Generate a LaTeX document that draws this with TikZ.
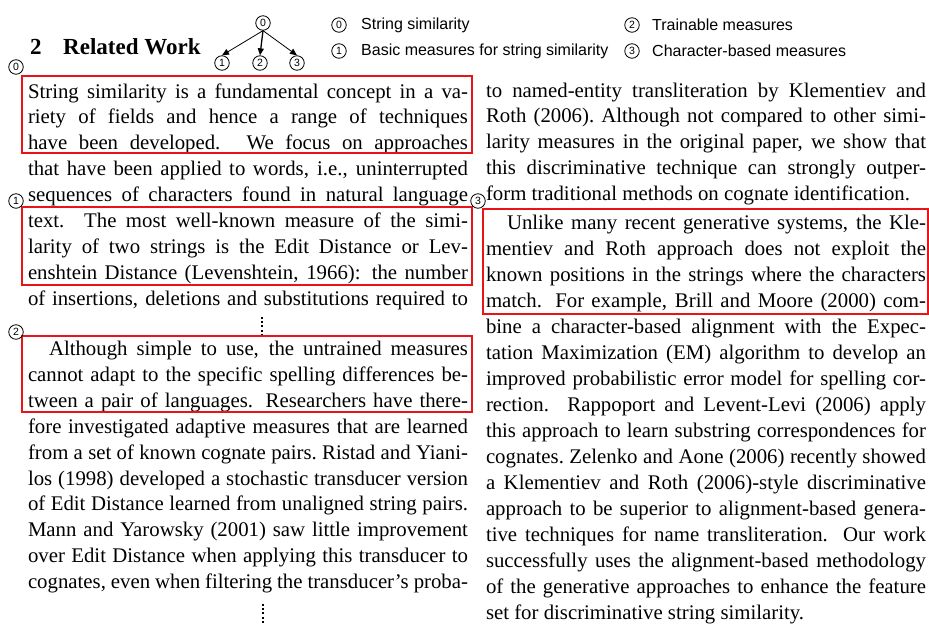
\documentclass[tikz,border=0pt]{standalone}
\usepackage{fontspec}
\setmainfont{Liberation Serif}
\newfontfamily\legendfont{Liberation Sans}
\usetikzlibrary{arrows.meta}
\definecolor{boxred}{RGB}{232,20,24}

% width of one text column
\newlength\colw
\setlength\colw{440pt}
% justified line of a column / ragged (last) line of a paragraph
\newcommand\jline[4]{\node[txtline] (#1) at (#2,#3) {\makebox[\colw][s]{#4}};}
\newcommand\pline[4]{\node[txtline] (#1) at (#2,#3) {#4};}
\newcommand\parind{\hspace*{21pt}}

\begin{document}
\begin{tikzpicture}[x=1pt,y=-1pt,
  txtline/.style={anchor=base west, inner sep=0pt, outer sep=0pt,
    font=\fontsize{20.8}{26}\selectfont},
  heading/.style={anchor=base west, inner sep=0pt,
    font=\bfseries\fontsize{23}{23}\selectfont},
  redbox/.style={draw=boxred, line width=2.4pt},
  numcirc/.style={circle, draw, line width=0.8pt, minimum size=14.5pt,
    inner sep=0pt, font=\legendfont\fontsize{10.5}{10.5}\selectfont},
  legendtxt/.style={anchor=west, inner sep=0pt,
    font=\legendfont\fontsize{16}{16}\selectfont},
  vdots/.style={line width=2pt, dash pattern=on 2pt off 2.2pt},
  treearrow/.style={-{Triangle[length=7pt,width=6pt]}, line width=0.8pt}
]
\useasboundingbox (0,0) rectangle (929,624);

% ---------- section heading ----------
\node[heading] (secnum) at (30,54) {2};
\node[heading] (sectitle) at (63,54) {Related Work};

% ---------- topic tree ----------
\node[numcirc] (t0) at (263,23) {0};
\node[numcirc] (t1) at (222,63) {1};
\node[numcirc] (t2) at (260,63) {2};
\node[numcirc] (t3) at (297,63) {3};
\draw[treearrow] (t0.south) -- (t1.north);
\draw[treearrow, line width=1.3pt] (t0.south) -- (t2.north);
\draw[treearrow] (t0.south) -- (t3.north);

% ---------- legend ----------
\node[numcirc] (k0) at (339,25) {0};
\node[legendtxt] (k0txt) at (361,25) {String similarity};
\node[numcirc] (k1) at (339,51) {1};
\node[legendtxt] (k1txt) at (361,51) {Basic measures for string similarity};
\node[numcirc] (k2) at (632,25) {2};
\node[legendtxt] (k2txt) at (652,25) {Trainable measures};
\node[numcirc] (k3) at (632,51) {3};
\node[legendtxt] (k3txt) at (652,51) {Character-based measures};

% ---------- left column ----------
\jline{la1}{28}{98}{String similarity is a fundamental concept in a va-}
\jline{la2}{28}{123.9}{riety of fields and hence a range of techniques}
\jline{la3}{28}{149.8}{have been developed.  We focus on approaches}
\jline{la4}{28}{175.7}{that have been applied to words, i.e., uninterrupted}
\jline{la5}{28}{201.6}{sequences of characters found in natural language}
\jline{la6}{28}{227.5}{text.  The most well-known measure of the simi-}
\jline{la7}{28}{253.4}{larity of two strings is the Edit Distance or Lev-}
\jline{la8}{28}{279.3}{enshtein Distance (Levenshtein, 1966): the number}
\jline{la9}{28}{305.2}{of insertions, deletions and substitutions required to}

\jline{lb1}{28}{355.5}{\parind Although simple to use, the untrained measures}
\jline{lb2}{28}{381.4}{cannot adapt to the specific spelling differences be-}
\jline{lb3}{28}{407.3}{tween a pair of languages.  Researchers have there-}
\jline{lb4}{28}{433.2}{fore investigated adaptive measures that are learned}
\jline{lb5}{28}{459.1}{from a set of known cognate pairs.\ Ristad and Yiani-}
\jline{lb6}{28}{485.0}{los (1998) developed a stochastic transducer version}
\jline{lb7}{28}{510.9}{of Edit Distance learned from unaligned string pairs.}
\jline{lb8}{28}{536.8}{Mann and Yarowsky (2001) saw little improvement}
\jline{lb9}{28}{562.7}{over Edit Distance when applying this transducer to}
\jline{lb10}{28}{588.6}{cognates, even when filtering the transducer's proba-}

% ---------- right column ----------
\jline{ra1}{486}{97}{to named-entity transliteration by Klementiev and}
\jline{ra2}{486}{122.8}{Roth (2006).\ Although not compared to other simi-}
\jline{ra3}{486}{148.6}{larity measures in the original paper, we show that}
\jline{ra4}{486}{174.4}{this discriminative technique can strongly outper-}
\pline{ra5}{486}{200.2}{form traditional methods on cognate identification.}

\jline{rb1}{486}{229.0}{\parind Unlike many recent generative systems, the Kle-}
\jline{rb2}{486}{255.0}{mentiev and Roth approach does not exploit the}
\jline{rb3}{486}{281.0}{known positions in the strings where the characters}
\jline{rb4}{486}{307.0}{match.  For example, Brill and Moore (2000) com-}
\jline{rb5}{486}{333.0}{bine a character-based alignment with the Expec-}
\jline{rb6}{486}{359.0}{tation Maximization (EM) algorithm to develop an}
\jline{rb7}{486}{385.0}{improved probabilistic error model for spelling cor-}
\jline{rb8}{486}{411.0}{rection.  Rappoport and Levent-Levi (2006) apply}
\jline{rb9}{486}{437.0}{this approach to learn substring correspondences for}
\jline{rb10}{486}{463.0}{cognates.\ Zelenko and Aone (2006) recently showed}
\jline{rb11}{486}{489.0}{a Klementiev and Roth (2006)-style discriminative}
\jline{rb12}{486}{515.0}{approach to be superior to alignment-based genera-}
\jline{rb13}{486}{541.0}{tive techniques for name transliteration.  Our work}
\jline{rb14}{486}{567.0}{successfully uses the alignment-based methodology}
\jline{rb15}{486}{593.0}{of the generative approaches to enhance the feature}
\pline{rb16}{486}{619.0}{set for discriminative string similarity.}

% ---------- elided text ----------
\coordinate (gapAtop) at (262,317);
\coordinate (gapAbot) at (262,334);
\draw[vdots] (gapAtop) -- (gapAbot);
\coordinate (gapBtop) at (263,604);
\coordinate (gapBbot) at (263,623);
\draw[vdots] (gapBtop) -- (gapBbot);

% ---------- highlighted passages ----------
\draw[redbox] (22,76) rectangle (472,153);
\draw[redbox] (22,207) rectangle (472,285);
\draw[redbox] (22,336) rectangle (472,412);
\draw[redbox] (483,209) rectangle (928,314);

\node[numcirc] (p0) at (16,67) {0};
\node[numcirc] (p1) at (16,201) {1};
\node[numcirc] (p2) at (16,332) {2};
\node[numcirc] (p3) at (478,201) {3};
\end{tikzpicture}
\end{document}
